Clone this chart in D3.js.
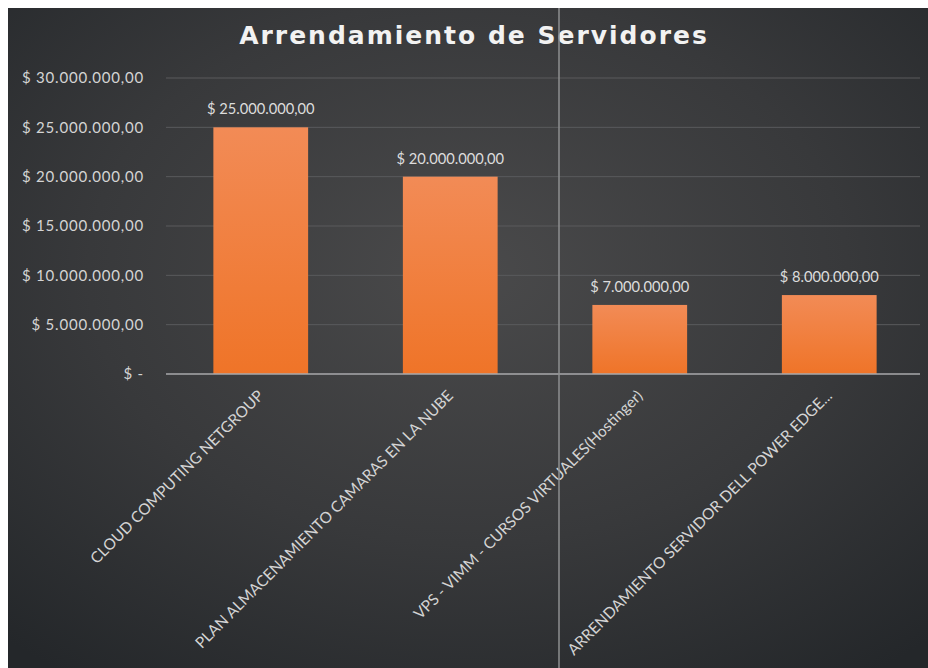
<!DOCTYPE html>
<html><head><meta charset="utf-8">
<script src="https://cdn.jsdelivr.net/npm/d3@7"></script>
<style>html,body{margin:0;padding:0;background:#fff;}svg{display:block;}</style>
</head><body>
<svg id="c" width="928" height="668"></svg>
<script>
const title = "Arrendamiento de Servidores";
const categories = [
  "CLOUD COMPUTING NETGROUP",
  "PLAN ALMACENAMIENTO CAMARAS EN LA NUBE",
  "VPS - VIMM - CURSOS VIRTUALES(Hostinger)",
  "ARRENDAMIENTO SERVIDOR DELL POWER EDGE..."
];
const values = [25000000, 20000000, 7000000, 8000000];
const yTicks = [0, 5000000, 10000000, 15000000, 20000000, 25000000, 30000000];

(function(){
const W = 928, H = 668;
const svg = d3.select("#c");
const defs = svg.append("defs");
const bg = defs.append("radialGradient").attr("id","bg").attr("cx","50%").attr("cy","40%").attr("r","75%");
bg.append("stop").attr("offset","0%").attr("stop-color","#4a4a4b");
bg.append("stop").attr("offset","55%").attr("stop-color","#38393b");
bg.append("stop").attr("offset","100%").attr("stop-color","#24272a");
const barG = defs.append("linearGradient").attr("id","bar").attr("x1","0").attr("y1","0").attr("x2","0").attr("y2","1");
barG.append("stop").attr("offset","0%").attr("stop-color","#f28b56");
barG.append("stop").attr("offset","100%").attr("stop-color","#ef7428");

svg.append("rect").attr("x",8).attr("y",8).attr("width",W-8).attr("height",H-8).attr("fill","url(#bg)");

const pL = 166, pR = 924, pT = 78, pB = 374;
const x = d3.scaleBand().domain(categories).range([pL, pR]).paddingInner(0.5).paddingOuter(0.25);
const y = d3.scaleLinear().domain([0, 30000000]).range([pB, pT]);

const fmt = v => v === 0 ? "$ -" : "$ " + d3.format(",.2f")(v).replace(/,/g,"#").replace(/\./g,",").replace(/#/g,".");
const FONT = "Lato, 'Open Sans', sans-serif";

svg.append("g").selectAll("line").data(yTicks.filter(d=>d>0)).join("line")
  .attr("x1", pL).attr("x2", 920).attr("y1", d=>y(d)).attr("y2", d=>y(d))
  .attr("stroke","#5a5b5d").attr("stroke-width",1);

const yAxis = svg.append("g").attr("transform",`translate(${pL},0)`)
  .call(d3.axisLeft(y).tickValues(yTicks).tickFormat(fmt).tickSize(0).tickPadding(22));
yAxis.select(".domain").remove();
yAxis.selectAll("text").attr("fill","#d4d4d4").attr("font-family",FONT).attr("font-size",15).attr("letter-spacing",0.8).attr("text-anchor","end");

svg.append("g").selectAll("rect").data(values).join("rect")
  .attr("x",(d,i)=>x(categories[i])).attr("width",x.bandwidth())
  .attr("y",d=>y(d)).attr("height",d=>y(0)-y(d))
  .attr("fill","url(#bar)");

svg.append("line").attr("x1",pL).attr("x2",920).attr("y1",y(0)).attr("y2",y(0)).attr("stroke","#a8a9ab").attr("stroke-width",1.5);

svg.append("g").selectAll("text").data(values).join("text")
  .attr("x",(d,i)=>x(categories[i])+x.bandwidth()/2).attr("y",d=>y(d)-13)
  .attr("text-anchor","middle").attr("fill","#dcdcdc")
  .attr("font-family",FONT).attr("font-size",14.7)
  .text(fmt);

const xAxis = svg.append("g").attr("transform",`translate(0,${y(0)})`)
  .call(d3.axisBottom(x).tickSize(0).tickPadding(0));
xAxis.select(".domain").remove();
xAxis.selectAll("text")
  .attr("fill","#d4d4d4").attr("font-family",FONT).attr("font-size",15.4)
  .attr("text-anchor","end").attr("dy","0.35em")
  .attr("transform","translate(0,19) rotate(-45)");

svg.append("text").attr("x",474).attr("y",44).attr("text-anchor","middle")
  .attr("fill","#f2f2f2").attr("font-family","'DejaVu Sans', sans-serif").attr("font-weight","bold")
  .attr("font-size",25).attr("letter-spacing",2).text(title);

svg.append("line").attr("x1",559).attr("x2",559).attr("y1",8).attr("y2",H).attr("stroke","#8e8f91").attr("stroke-width",1.5);
})();
</script>
</body></html>
